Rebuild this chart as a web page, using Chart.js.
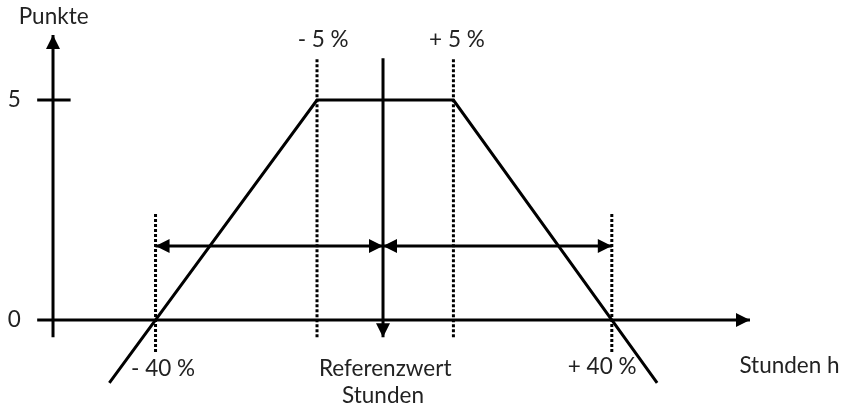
<!DOCTYPE html>
<html lang="de">
<head>
    <meta charset="UTF-8">
    <title>Punkte – Referenzwert Stunden</title>
    <script src="https://cdn.jsdelivr.net/npm/chart.js"></script>
    <style>
        body { margin: 0; background: #fff; }
        canvas { display: block; }
    </style>
</head>
<body>
<canvas id="punkteChart" width="848" height="409"></canvas>
<script>
    // schematic units: reference value at x = 0, points on y
    const keyLabels = ['- 40 %', '- 5 %', 'Referenzwert', '+ 5 %', '+ 40 %'];
    const keyX = [-5.17, -1.5, 0, 1.6, 5.2];
    const yTickValues = [0, 5];
    const yTickLabels = ['0', '5'];
    const curveX = [-6.22, -1.5, 1.6, 6.23];
    const curveY = [-1.43, 5, 5, -1.43];
    const axisTitleX = 'Stunden h';
    const axisTitleY = 'Punkte';
    const refSubLabel = 'Stunden';

    const black = '#000';
    const fontFamily = 'Lato, "Open Sans", sans-serif';

    function seg(x1, y1, x2, y2) {
        return [{x: x1, y: y1}, {x: x2, y: y2}];
    }

    const datasets = [];
    // main curve
    datasets.push({
        data: curveX.map((x, i) => ({x: x, y: curveY[i]})),
        borderColor: black, borderWidth: 3
    });
    // axes
    datasets.push({data: seg(-7.86, 0, 8.34, 0), borderColor: black, borderWidth: 3, arrowEnd: true});
    datasets.push({data: seg(-7.5, -0.39, -7.5, 6.48), borderColor: black, borderWidth: 3, arrowEnd: true});
    // tick at 5
    datasets.push({data: seg(-7.86, yTickValues[1], -7.1, yTickValues[1]), borderColor: black, borderWidth: 3});
    // reference arrow
    datasets.push({data: seg(keyX[2], 5.95, keyX[2], -0.39), borderColor: black, borderWidth: 3, arrowEnd: true});
    // double arrows
    datasets.push({data: seg(keyX[0], 1.68, keyX[2], 1.68), borderColor: black, borderWidth: 3, arrowStart: true, arrowEnd: true});
    datasets.push({data: seg(keyX[2], 1.68, keyX[4], 1.68), borderColor: black, borderWidth: 3, arrowStart: true, arrowEnd: true});
    // dotted guides
    [[keyX[0], -0.73, 2.43], [keyX[1], -0.39, 5.95], [keyX[3], -0.39, 5.95], [keyX[4], -0.73, 2.43]].forEach(d => {
        datasets.push({data: seg(d[0], d[1], d[0], d[2]), borderColor: black, borderWidth: 3, borderDash: [3, 2]});
    });

    datasets.forEach(ds => {
        ds.showLine = true;
        ds.pointRadius = 0;
        ds.fill = false;
        ds.tension = 0;
    });

    const arrowPlugin = {
        id: 'arrows',
        afterDatasetsDraw(chart) {
            const ctx = chart.ctx;
            chart.data.datasets.forEach((ds, i) => {
                if (!ds.arrowEnd && !ds.arrowStart) return;
                const pts = chart.getDatasetMeta(i).data;
                const head = (tip, from) => {
                    const ang = Math.atan2(tip.y - from.y, tip.x - from.x);
                    const len = 14, half = 7;
                    ctx.save();
                    ctx.translate(tip.x, tip.y);
                    ctx.rotate(ang);
                    ctx.beginPath();
                    ctx.moveTo(0, 0);
                    ctx.lineTo(-len, -half);
                    ctx.lineTo(-len, half);
                    ctx.closePath();
                    ctx.fillStyle = black;
                    ctx.fill();
                    ctx.restore();
                };
                if (ds.arrowEnd) head(pts[pts.length - 1], pts[pts.length - 2]);
                if (ds.arrowStart) head(pts[0], pts[1]);
            });
        }
    };

    const labelPlugin = {
        id: 'labels',
        afterDatasetsDraw(chart) {
            const ctx = chart.ctx;
            const sx = chart.scales.x, sy = chart.scales.y;
            const put = (text, x, y) => {
                ctx.fillText(text, sx.getPixelForValue(x), sy.getPixelForValue(y));
            };
            ctx.save();
            ctx.fillStyle = '#222';
            ctx.font = '22.5px ' + fontFamily;
            ctx.textBaseline = 'middle';
            ctx.textAlign = 'center';
            put(keyLabels[0], -5.0, -1.1);
            put(keyLabels[1], -1.36, 6.36);
            put(keyLabels[2], 0.05, -1.1);
            put(refSubLabel, 0.0, -1.72);
            put(keyLabels[3], 1.68, 6.36);
            put(keyLabels[4], 4.98, -1.07);
            yTickValues.forEach((v, i) => put(yTickLabels[i], -8.38, v));
            ctx.textAlign = 'left';
            put(axisTitleY, -8.28, 6.9);
            put(axisTitleX, 8.1, -1.05);
            ctx.restore();
        }
    };

    new Chart(document.getElementById('punkteChart'), {
        type: 'scatter',
        data: {datasets: datasets},
        options: {
            responsive: false,
            animation: false,
            layout: {padding: 0},
            plugins: {legend: {display: false}, tooltip: {enabled: false}},
            scales: {
                x: {type: 'linear', display: false, min: -8.705, max: 10.568},
                y: {type: 'linear', display: false, min: -2.023, max: 7.273}
            }
        },
        plugins: [arrowPlugin, labelPlugin]
    });
</script>
</body>
</html>
